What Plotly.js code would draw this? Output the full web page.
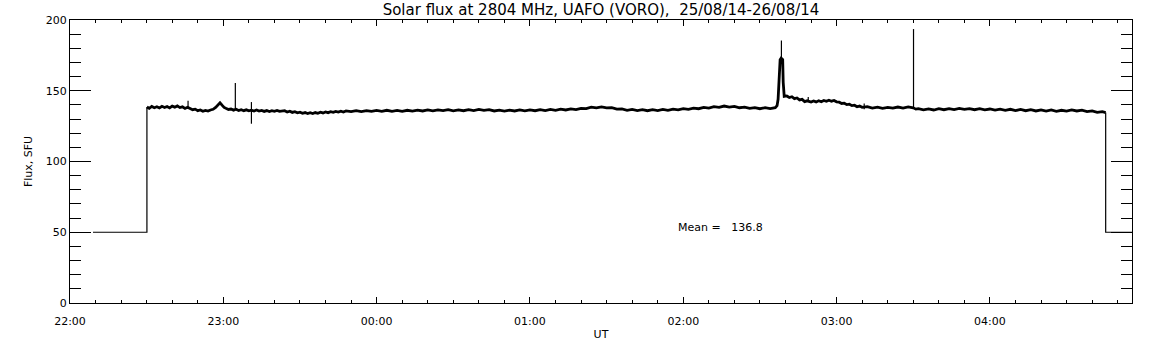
<!DOCTYPE html>
<html>
<head>
<meta charset="utf-8">
<script src="https://cdn.plot.ly/plotly-3.0.1.min.js"></script>
<style>
html,body{margin:0;padding:0;background:#fff;}
#chart{width:1152px;height:345px;}
</style>
</head>
<body>
<div id="chart"></div>
<script>
// Time is given in minutes after 22:00 UT on 25/08/14
// Receiver-off level before start and after end of record
var offMinutesStart = [9, 30.1, 30.1];
var offFluxStart    = [50, 50, 138.5];
var offMinutesEnd   = [405.3, 405.3, 415.6];
var offFluxEnd      = [134.6, 50, 50];

// Main (noisy) flux record
var fluxMinutes = [
  30.1, 31, 32, 33, 34, 35, 36, 37, 38, 39, 40, 41, 42, 43, 44, 45, 46,
  47, 48, 49, 50, 51, 52, 53, 54, 55, 56, 57, 58, 58.7, 59.5, 60.3, 61, 62, 63, 64, 65,
  66, 67, 68, 69, 70, 71, 72, 73, 74, 75, 76, 77, 78, 79, 80, 81, 82,
  84, 85, 86, 87, 88, 89, 90, 91, 92, 93, 94, 95, 96, 97, 98, 99, 100, 101, 102, 103, 104, 105, 106, 107, 108,
  110, 112, 114, 116, 118, 120, 122, 124, 126, 128, 130, 132, 134, 136, 138, 140, 142, 144, 146, 148, 150, 152, 154,
  156, 158, 160, 162, 164, 166, 168, 170, 172, 174, 176, 178, 180, 182, 184, 186, 188, 190, 192, 194, 196, 198, 200,
  202, 204, 206, 208, 210, 212, 214, 216, 218, 220, 222, 224, 226, 228, 230, 232, 234, 236, 238,
  240, 242, 244, 246, 248, 250, 252, 254, 256, 258, 260, 262, 264, 266, 268, 270, 272, 274, 276,
  276.7, 277.1, 277.5, 277.9, 278.3, 278.9, 279.1, 279.3, 279.5, 280.5, 281.5, 282.5, 283.5, 284.5, 285.5, 286.5, 287.5, 288.5,
  290, 291, 292, 293, 294, 295, 296, 297, 298, 299, 300, 301, 302, 303, 304, 305, 306, 307, 308, 309, 310,
  312, 314, 316, 318, 320, 322, 324, 326, 328, 330, 331, 332,
  334, 336, 338, 340, 342, 344, 346, 348, 350, 352, 354, 356, 358, 360, 362, 364, 366, 368,
  370, 372, 374, 376, 378, 380, 382, 384, 386, 388, 390, 392, 394, 396, 398, 400, 402, 404, 405.3
];
var fluxValues = [
  138.5, 137.6, 138.9, 138.0, 138.7, 137.8, 139.0, 138.2, 138.9, 137.9, 139.1, 138.4, 139.3, 138.1, 138.6, 137.5, 138.3,
  137.4, 136.6, 137.0, 135.9, 136.4, 135.5, 136.1, 135.6, 136.4, 136.9, 138.2, 140.0, 141.5, 139.8, 138.2, 137.6, 136.8, 137.1, 136.3, 136.9,
  136.0, 136.6, 135.9, 136.5, 135.8, 136.3, 135.7, 136.4, 135.6, 136.1, 135.4, 136.0, 135.3, 135.9, 135.5, 136.1, 135.4,
  135.9, 135.0, 135.5, 134.7, 135.2, 134.4, 134.9, 134.1, 134.6, 133.9, 134.5, 133.9, 134.6, 134.1, 134.8, 134.3, 135.0, 134.5, 135.2, 134.7, 135.4, 134.9, 135.6, 135.0, 135.7,
  135.2, 135.9, 135.3, 136.0, 135.4, 136.1, 135.5, 136.2, 135.5, 136.1, 135.4, 136.2, 135.6, 136.3, 135.7, 136.4, 135.8, 136.5, 135.9, 136.6, 135.8, 136.5, 135.9,
  136.7, 136.0, 136.8, 136.1, 136.6, 135.7, 136.3, 135.6, 136.3, 135.7, 136.4, 135.8, 136.5, 135.9, 136.7, 136.0, 136.8, 136.2, 137.0, 136.4, 137.2, 136.7, 137.6,
  137.4, 138.4, 137.9, 138.6, 137.9, 138.0, 137.0, 137.1, 136.2, 136.8, 136.0, 136.7, 135.9, 136.6, 136.0, 136.8, 136.2, 137.0, 136.5,
  137.4, 136.9, 137.7, 137.3, 138.2, 137.7, 138.8, 138.3, 139.2, 138.5, 139.0, 138.0, 138.4, 137.5, 138.0, 137.3, 138.0, 137.4, 138.0,
  139.5, 144.0, 155.7, 172.0, 173.0, 172.0, 156.0, 148.0, 146.0, 146.3, 145.2, 145.8, 144.4, 144.9, 143.5, 143.9, 142.3, 142.9,
  142.0, 142.8, 142.1, 142.9, 142.2, 143.1, 142.5, 143.3, 142.6, 143.1, 142.2, 141.9, 141.0, 141.2, 140.2, 140.5, 139.5, 139.8, 138.7, 139.2, 138.3,
  138.8, 137.8, 138.4, 137.6, 138.3, 137.7, 138.5, 137.8, 138.6, 137.9, 137.0, 137.4,
  136.5, 137.2, 136.4, 137.3, 136.6, 137.4, 136.7, 137.5, 136.8, 137.4, 136.6, 137.3, 136.5, 137.1, 136.3, 137.0, 136.2, 136.9,
  136.0, 136.8, 135.9, 136.6, 135.7, 136.5, 135.6, 136.4, 135.5, 136.2, 135.6, 136.4, 135.7, 136.3, 135.2, 135.8, 134.7, 135.2, 134.6
];

// Short spikes: minute, low end, high end
var spikeMinutes = [46.2, 64.7, 71.0, 278.4, 288.9, 310.8, 330.1];
var spikeLow     = [137.5, 136.5, 126.7, 172.0, 142.5, 137.0, 137.5];
var spikeHigh    = [143.0, 155.5, 142.0, 185.5, 145.5, 141.0, 193.6];

var meanFlux = 136.8;
var yTickVals = [0, 50, 100, 150, 200];

function pad(n){ return (n < 10 ? '0' : '') + n; }
function toDate(m){
  var d = new Date(Date.UTC(2014, 7, 25, 22, 0, 0) + Math.round(m * 60000));
  return d.getUTCFullYear() + '-' + pad(d.getUTCMonth() + 1) + '-' + pad(d.getUTCDate()) + ' ' +
         pad(d.getUTCHours()) + ':' + pad(d.getUTCMinutes()) + ':' + pad(d.getUTCSeconds());
}

var spikeX = [], spikeY = [];
for (var i = 0; i < spikeMinutes.length; i++) {
  spikeX.push(toDate(spikeMinutes[i]), toDate(spikeMinutes[i]), null);
  spikeY.push(spikeLow[i], spikeHigh[i], null);
}

var thin = {color: '#000', width: 1.2};
var traces = [
  {x: offMinutesStart.map(toDate), y: offFluxStart, mode: 'lines', line: thin, hoverinfo: 'skip'},
  {x: offMinutesEnd.map(toDate), y: offFluxEnd, mode: 'lines', line: thin, hoverinfo: 'skip'},
  {x: fluxMinutes.map(toDate), y: fluxValues, mode: 'lines', line: {color: '#000', width: 2.8}, hoverinfo: 'skip'},
  {x: spikeX, y: spikeY, mode: 'lines', line: thin, connectgaps: false, hoverinfo: 'skip'}
];

var font = {family: 'DejaVu Sans, sans-serif', size: 11, color: '#000'};
var layout = {
  width: 1152, height: 345,
  margin: {l: 70, r: 20, t: 20, b: 42},
  paper_bgcolor: '#fff', plot_bgcolor: '#fff',
  showlegend: false,
  font: font,
  title: {text: 'Solar flux at 2804 MHz, UAFO (VORO),  25/08/14-26/08/14',
          font: {family: 'DejaVu Sans, sans-serif', size: 15, color: '#000'},
          x: 0.5217, xanchor: 'center', y: 0.972, yanchor: 'middle'},
  xaxis: {
    type: 'date',
    range: [toDate(0), toDate(415.6)],
    tick0: toDate(0), dtick: 3600000, tickformat: '%H:%M',
    ticks: 'inside', ticklen: 6, tickwidth: 1, tickcolor: '#000',
    ticklabelstandoff: 8,
    minor: {dtick: 600000, ticks: 'inside', ticklen: 3, tickwidth: 1, tickcolor: '#000', showgrid: false},
    showline: true, linecolor: '#000', linewidth: 1, mirror: 'allticks',
    showgrid: false, zeroline: false, fixedrange: true,
    tickfont: font,
    title: {text: 'UT', font: font, standoff: 3}
  },
  yaxis: {
    range: [0, 200],
    tickvals: yTickVals,
    ticks: 'inside', ticklen: 21, tickwidth: 1, tickcolor: '#000',
    minor: {dtick: 10, ticks: 'inside', ticklen: 11, tickwidth: 1, tickcolor: '#000', showgrid: false},
    showline: true, linecolor: '#000', linewidth: 1, mirror: 'allticks',
    showgrid: false, zeroline: false, fixedrange: true,
    tickfont: font,
    title: {text: 'Flux, SFU', font: font, standoff: 10}
  },
  annotations: [{
    xref: 'x', yref: 'y', x: toDate(237.2), y: 53.5,
    xanchor: 'left', yanchor: 'middle', showarrow: false,
    text: 'Mean =   ' + meanFlux.toFixed(1), font: font
  }]
};

Plotly.newPlot('chart', traces, layout, {staticPlot: true, displayModeBar: false});
</script>
</body>
</html>
